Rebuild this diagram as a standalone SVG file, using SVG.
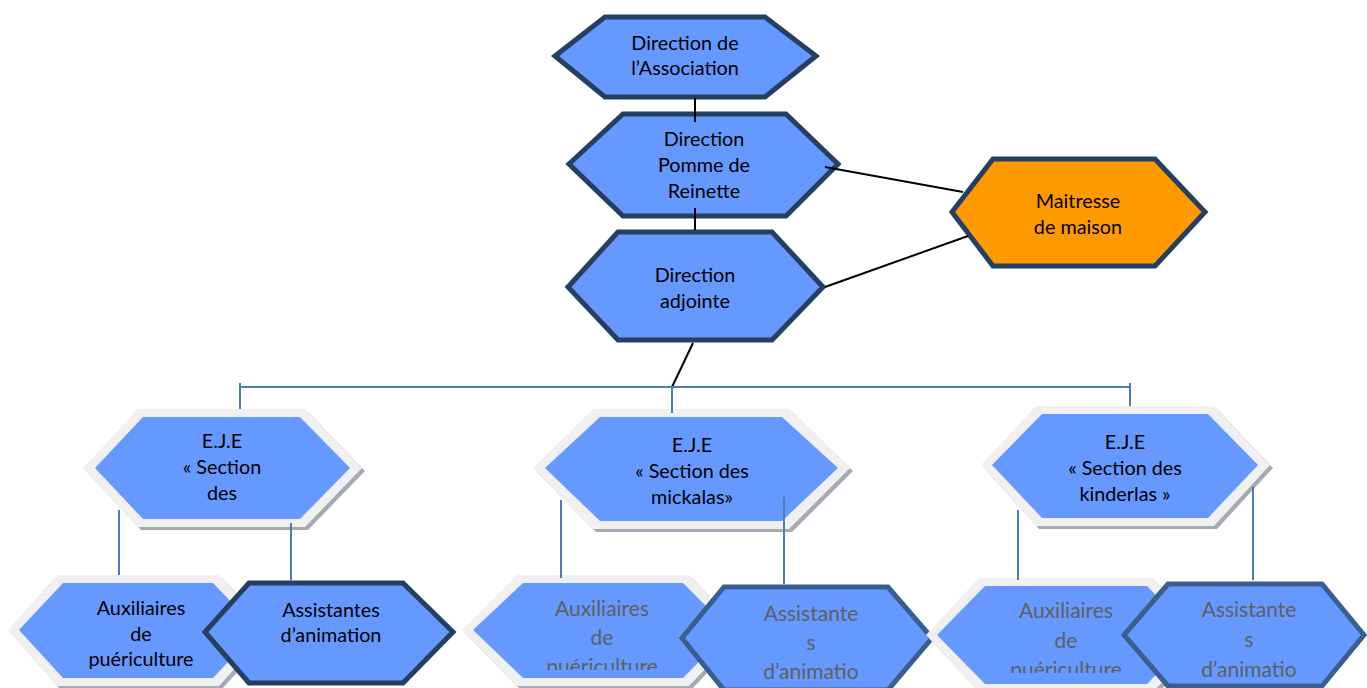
<svg xmlns="http://www.w3.org/2000/svg" width="1367" height="688" viewBox="0 0 1367 688">
<defs>
<style>
.t{font-family:Lato,"Open Sans","Liberation Sans",sans-serif;font-size:19.8px;fill:#000;text-anchor:middle;dominant-baseline:central}
.g{font-family:Lato,"Open Sans","Liberation Sans",sans-serif;font-size:21px;fill:#5f5f5f;text-anchor:middle;dominant-baseline:central}
.dk{fill:#6699ff;stroke:#243f60;stroke-width:5;stroke-linejoin:miter}
.md{fill:#6699ff;stroke:#3a5f8f;stroke-width:5;stroke-linejoin:miter}
.or{fill:#ff9900;stroke:#243f60;stroke-width:5}
.sh{fill:#a3abb5}
.bd{fill:#f0f0f0}
.in{fill:#6699ff}
.bk{stroke:#000;stroke-width:2;fill:none}
.bl{stroke:#4a7ebb;stroke-width:2;fill:none}
</style>
<clipPath id="c1"><rect x="0" y="0" width="1367" height="670"/></clipPath>
<clipPath id="c2"><rect x="0" y="0" width="1367" height="673"/></clipPath>
<clipPath id="c3"><rect x="0" y="0" width="1367" height="507"/></clipPath>
</defs>
<rect width="1367" height="688" fill="#fff"/>

<g id="n-association">
<polygon class="dk" points="555,56 605,17 765,17 816,56 765,97 605,97"/>
<text class="t" x="685" y="42">Direction de</text>
<text class="t" x="685" y="67">l’Association</text>
</g>

<g id="n-pomme">
<polygon class="dk" points="569,164 623,114 786,114 838,164 786,216 623,216"/>
<text class="t" x="704" y="138">Direction</text>
<text class="t" x="704" y="164">Pomme de</text>
<text class="t" x="704" y="190">Reinette</text>
</g>

<g id="n-adjointe">
<polygon class="dk" points="568,287 618,232 772,232 823,287 772,340 618,340"/>
<text class="t" x="695" y="274">Direction</text>
<text class="t" x="695" y="300">adjointe</text>
</g>

<g id="n-maitresse">
<polygon class="or" points="952,212 993,159 1155,159 1205,212 1155,266 993,266"/>
<text class="t" x="1078" y="200">Maitresse</text>
<text class="t" x="1078" y="226">de maison</text>
</g>

<g id="n-eje1">
<polygon class="sh" points="86,471 141,412 308,412 365,471 308,530 141,530"/>
<polygon class="bd" points="83,468 138,409 305,409 362,468 305,527 138,527"/>
<polygon class="in" points="95,468 143,417 300,417 350,468 300,519 143,519"/>
<g clip-path="url(#c3)">
<text class="t" x="222" y="440">E.J.E</text>
<text class="t" x="222" y="466">« Section</text>
<text class="t" x="222" y="492">des</text>
</g>
</g>

<g id="n-eje2">
<polygon class="sh" points="536,471 596,412 792,412 853,471 792,532 596,532"/>
<polygon class="bd" points="533,468 593,409 789,409 850,468 789,529 593,529"/>
<polygon class="in" points="545,468 600,417 782,417 838,468 782,521 600,521"/>
<text class="t" x="692" y="444">E.J.E</text>
<text class="t" x="692" y="470">« Section des</text>
<text class="t" x="692" y="496">mickalas»</text>
</g>

<g id="n-eje3">
<polygon class="sh" points="984,468 1039,409 1217,409 1273,468 1217,529 1039,529"/>
<polygon class="bd" points="981,465 1036,406 1214,406 1270,465 1214,526 1036,526"/>
<polygon class="in" points="992,465 1042,414 1208,414 1258,465 1208,518 1042,518"/>
<text class="t" x="1125" y="441">E.J.E</text>
<text class="t" x="1125" y="467">«  Section des</text>
<text class="t" x="1125" y="493">kinderlas »</text>
</g>

<g id="n-aux1">
<polygon class="sh" points="11,633 60,578 222,578 273,633 222,689 60,689"/>
<polygon class="bd" points="8,630 57,575 219,575 270,630 219,686 57,686"/>
<polygon class="in" points="19,630 63,583 213,583 258,630 213,678 63,678"/>
<text class="t" x="141" y="607">Auxiliaires</text>
<text class="t" x="141" y="633">de</text>
<text class="t" x="141" y="658">puériculture</text>
</g>

<g id="n-asst1">
<polygon class="dk" points="205,632 249,583 403,583 453,632 403,683 249,683"/>
<text class="t" x="331" y="609">Assistantes</text>
<text class="t" x="331" y="634">d’animation</text>
</g>

<g id="n-aux2">
<polygon class="sh" points="465,633 520,578 692,578 745,633 692,689 520,689"/>
<polygon class="bd" points="462,630 517,575 689,575 742,630 689,686 517,686"/>
<polygon class="in" points="473,630 523,583 683,583 730,630 683,678 523,678"/>
<g clip-path="url(#c1)">
<text class="g" x="602" y="607">Auxiliaires</text>
<text class="g" x="602" y="636">de</text>
<text class="g" x="602" y="665">puériculture</text>
</g>
</g>

<g id="n-asst2">
<polygon class="md" points="682,638 724,587 888,587 932,638 888,690 724,690"/>
<text class="g" x="811" y="612">Assistante</text>
<text class="g" x="811" y="641">s</text>
<text class="g" x="811" y="670">d’animatio</text>
</g>

<g id="n-aux3">
<polygon class="sh" points="929,638 982,581 1156,581 1210,638 1156,695 982,695"/>
<polygon class="bd" points="926,635 979,578 1153,578 1207,635 1153,692 979,692"/>
<polygon class="in" points="937,635 985,586 1147,586 1195,635 1147,684 985,684"/>
<g clip-path="url(#c2)">
<text class="g" x="1066" y="609">Auxiliaires</text>
<text class="g" x="1066" y="639">de</text>
<text class="g" x="1066" y="668">puériculture</text>
</g>
</g>

<g id="n-asst3">
<polygon class="md" points="1124,635 1168,584 1322,584 1364,635 1322,686 1168,686"/>
<text class="g" x="1249" y="608">Assistante</text>
<text class="g" x="1249" y="638">s</text>
<text class="g" x="1249" y="668">d’animatio</text>
</g>

<g id="connectors">
<line class="bk" x1="695" y1="98" x2="695" y2="122"/>
<line class="bk" x1="695" y1="208" x2="695" y2="230"/>
<line class="bk" x1="825" y1="167" x2="963" y2="192"/>
<line class="bk" x1="825" y1="287" x2="968" y2="236"/>
<line class="bk" x1="693" y1="343" x2="672" y2="387"/>
<line class="bl" x1="240" y1="387" x2="1130" y2="387"/>
<line class="bl" x1="240" y1="383" x2="240" y2="409"/>
<line class="bl" x1="672" y1="387" x2="672" y2="413"/>
<line class="bl" x1="1130" y1="383" x2="1130" y2="406"/>
<line class="bl" x1="119" y1="510" x2="119" y2="575"/>
<line class="bl" x1="291" y1="523" x2="291" y2="580"/>
<line class="bl" x1="561" y1="500" x2="561" y2="578"/>
<line class="bl" x1="784" y1="497" x2="784" y2="584"/>
<line class="bl" x1="1018" y1="510" x2="1018" y2="580"/>
<line class="bl" x1="1253" y1="487" x2="1253" y2="580"/>
</g>
</svg>
